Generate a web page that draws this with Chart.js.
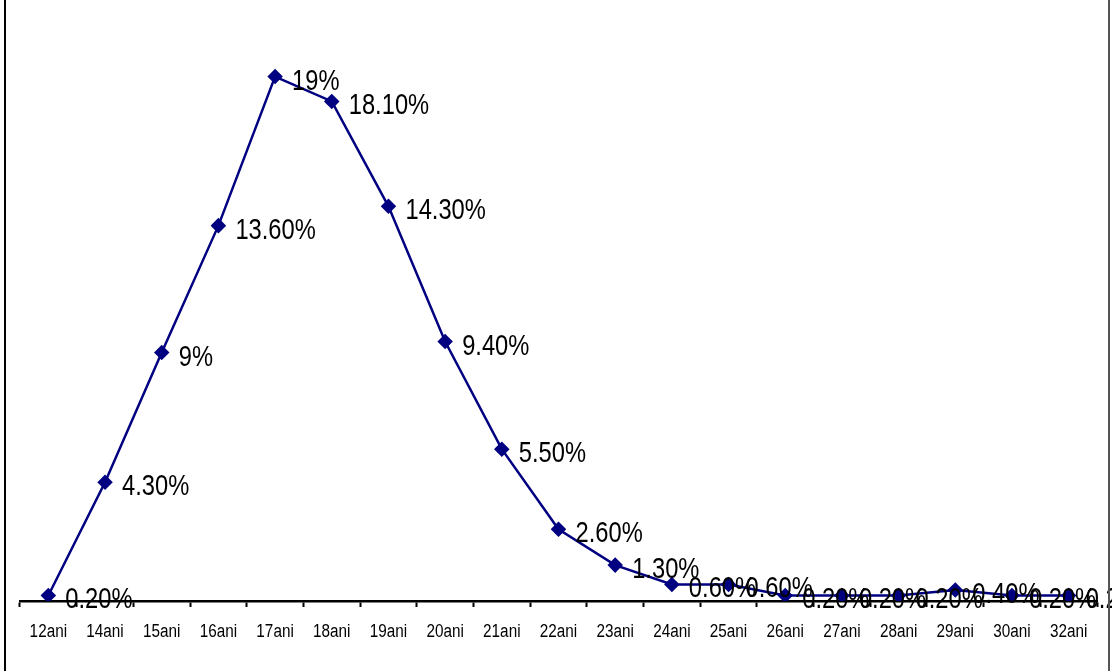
<!DOCTYPE html>
<html>
<head>
<meta charset="utf-8">
<script src="https://cdn.jsdelivr.net/npm/chart.js@4"></script>
<style>
    body { margin: 0; background: #fff; }
    #wrap { position: relative; width: 1112px; height: 671px; overflow: hidden; }
    #leftLine { position: absolute; left: 4px; top: 0; width: 2px; height: 671px; background: #000; }
    #rightLine { position: absolute; left: 1108px; top: 0; width: 2px; height: 671px; background: #555; }
</style>
</head>
<body>
<div id="wrap">
    <canvas id="ageChart" width="1112" height="671"></canvas>
    <div id="leftLine"></div>
    <div id="rightLine"></div>
</div>
<script>
// categories and values (percent)
const ageLabels = ['12ani', '14ani', '15ani', '16ani', '17ani', '18ani', '19ani', '20ani', '21ani', '22ani',
    '23ani', '24ani', '25ani', '26ani', '27ani', '28ani', '29ani', '30ani', '32ani'];
const percentValues = [0.2, 4.3, 9, 13.6, 19, 18.1, 14.3, 9.4, 5.5, 2.6,
    1.3, 0.6, 0.6, 0.2, 0.2, 0.2, 0.4, 0.2, 0.2];
const valueLabels = ['0.20%', '4.30%', '9%', '13.60%', '19%', '18.10%', '14.30%', '9.40%', '5.50%', '2.60%',
    '1.30%', '0.60%', '0.60%', '0.20%', '0.20%', '0.20%', '0.40%', '0.20%', '0.20%'];

const fontFamily = "'Liberation Sans', Arial, sans-serif";

// condensed text, like the narrow font of the original
function drawNarrow(ctx, text, x, y, sx) {
    ctx.save();
    ctx.translate(x, y);
    ctx.scale(sx, 1);
    ctx.fillText(text, 0, 0);
    ctx.restore();
}

// draws the value text next to every point and the category names under the axis
const textPlugin = {
    id: 'narrowText',
    afterDatasetsDraw(chart) {
        const ctx = chart.ctx;
        const meta = chart.getDatasetMeta(0);
        ctx.save();
        ctx.fillStyle = '#000';

        ctx.font = '30px ' + fontFamily;
        ctx.textAlign = 'left';
        ctx.textBaseline = 'alphabetic';
        meta.data.forEach(function(pt, i) {
            drawNarrow(ctx, valueLabels[i], pt.x + 17, pt.y + 13, 0.79);
        });

        const xScale = chart.scales.x;
        ctx.font = '18px ' + fontFamily;
        ctx.textAlign = 'center';
        ageLabels.forEach(function(lab, i) {
            drawNarrow(ctx, lab, xScale.getPixelForValue(i), 637, 0.85);
        });
        ctx.restore();
    }
};

const ctx = document.getElementById('ageChart').getContext('2d');
new Chart(ctx, {
    type: 'line',
    data: {
        labels: ageLabels,
        datasets: [{
            data: percentValues,
            borderColor: '#000080',
            backgroundColor: '#000080',
            borderWidth: 2.5,
            pointStyle: 'rectRot',
            pointRadius: 6,
            pointHoverRadius: 6,
            tension: 0
        }]
    },
    options: {
        responsive: false,
        animation: false,
        layout: { padding: { left: 20, right: 15, top: 49, bottom: 0 } },
        plugins: {
            legend: { display: false },
            tooltip: { enabled: false }
        },
        scales: {
            x: {
                offset: true,
                afterFit: function(scale) { scale.height = 70; },
                grid: {
                    offset: true,
                    drawOnChartArea: false,
                    drawTicks: true,
                    tickLength: 6,
                    tickWidth: 2,
                    color: '#000'
                },
                border: { display: true, color: '#000', width: 2.5 },
                ticks: {
                    color: 'rgba(0,0,0,0)',
                    padding: 10,
                    maxRotation: 0,
                    autoSkip: false,
                    font: { family: fontFamily, size: 18 }
                }
            },
            y: {
                display: false,
                min: 0,
                max: 20
            }
        }
    },
    plugins: [textPlugin]
});
</script>
</body>
</html>
